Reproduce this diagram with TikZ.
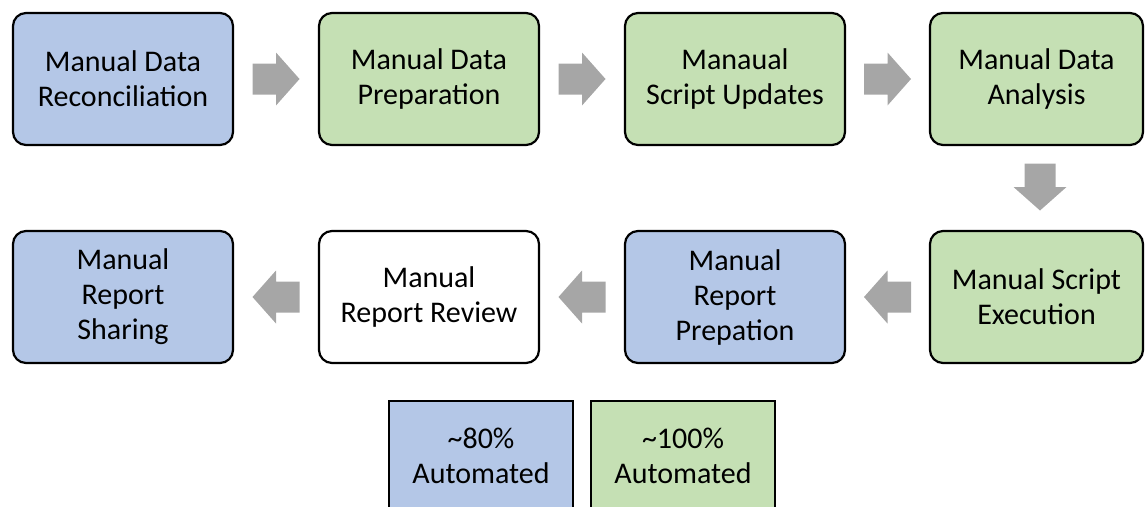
\documentclass[tikz,border=0pt]{standalone}
\usepackage{fontspec}
\setmainfont{Carlito}
\usetikzlibrary{calc}
\definecolor{boxblue}{HTML}{B4C7E7}
\definecolor{boxgreen}{HTML}{C5E0B4}
\definecolor{arrowgray}{HTML}{A6A6A6}
\tikzset{
  stagebox/.style={draw=black, line width=2.2pt, rounded corners=13pt,
    minimum width=220pt, minimum height=132pt, align=center, inner sep=0pt,
    font=\fontsize{30}{35}\selectfont},
  bluebox/.style={stagebox, fill=boxblue},
  greenbox/.style={stagebox, fill=boxgreen},
  whitebox/.style={stagebox, fill=white},
  legendbox/.style={draw=black, line width=2.2pt, minimum width=184pt,
    minimum height=110pt, align=center, inner sep=0pt,
    font=\fontsize{30}{35}\selectfont},
  pics/blockarrow/.style={code={
    \fill[arrowgray] (-23.5,-15.5) -- (0,-15.5) -- (0,-26.5) -- (23.5,0)
      -- (0,26.5) -- (0,15.5) -- (-23.5,15.5) -- cycle;}}
}
\begin{document}
\begin{tikzpicture}[x=1pt,y=-1pt]
\useasboundingbox (0,0) rectangle (1145,506);
% row 1
\node[bluebox]  (recon) at (123,79) {Manual Data\\Reconciliation};
\node[greenbox] (prep)  at (429,79) {Manual Data\\Preparation};
\node[greenbox] (upd)   at (735,79) {Manaual\\Script Updates};
\node[greenbox, minimum width=213pt] (anal) at (1036.5,79) {Manual Data\\Analysis};
% row 2
\node[bluebox]  (share) at (123,297) {Manual\\Report\\Sharing};
\node[whitebox] (review) at (429,297) {Manual\\Report Review};
\node[bluebox]  (rprep) at (735,297) {Manual\\Report\\Prepation};
\node[greenbox, minimum width=213pt] (exec) at (1036.5,297) {Manual Script\\Execution};
% arrows
\coordinate (a1) at ($(recon.east)!0.5!(prep.west)$);
\coordinate (a2) at ($(prep.east)!0.5!(upd.west)$);
\coordinate (a3) at ($(upd.east)!0.5!(anal.west)$);
\coordinate (a4) at (1040,187);
\coordinate (a5) at ($(exec.west)!0.5!(rprep.east)$);
\coordinate (a6) at ($(rprep.west)!0.5!(review.east)$);
\coordinate (a7) at ($(review.west)!0.5!(share.east)$);
\pic at (a1) {blockarrow};
\pic at (a2) {blockarrow};
\pic at (a3) {blockarrow};
\pic[rotate=-90] at (a4) {blockarrow};
\pic[rotate=180] at (a5) {blockarrow};
\pic[rotate=180] at (a6) {blockarrow};
\pic[rotate=180] at (a7) {blockarrow};
% legend
\node[legendbox, fill=boxblue]  (leg80)  at (481,456) {\textasciitilde 80\%\\Automated};
\node[legendbox, fill=boxgreen] (leg100) at (683,456) {\textasciitilde 100\%\\Automated};
\end{tikzpicture}
\end{document}
